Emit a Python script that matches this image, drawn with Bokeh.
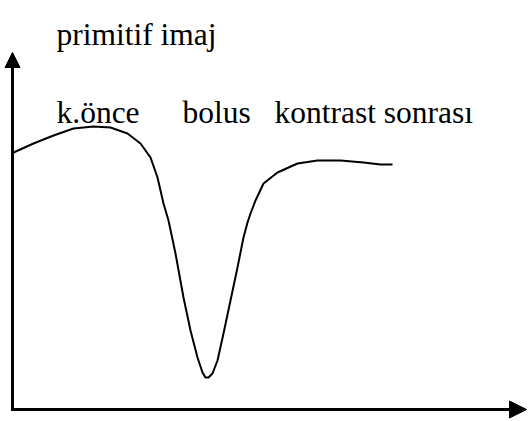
from bokeh.plotting import figure
from bokeh.models import Range1d, Arrow, NormalHead, Label
from bokeh.embed import file_html
from bokeh.resources import INLINE

# Curve (arbitrary time / signal units)
time = [1, 21, 41, 61, 81, 98, 115, 128, 138, 145, 151, 156, 163, 171, 178,
        185, 190, 193, 196, 200, 205, 211, 218, 225, 231, 235, 238, 243, 251,
        265, 285, 305, 328, 351, 368, 380]
signal = [257, 266, 274, 281, 283, 282, 276, 266, 252, 232, 206, 189, 156, 112,
          79, 52, 37, 32, 32, 36, 49, 76, 109, 142, 172, 187, 196, 209, 226,
          237, 246, 249, 249, 247, 245, 245]

title_text = ["primitif imaj"]
phase_labels = ["k.önce", "bolus", "kontrast sonrası"]
phase_x = [44, 170, 262]
phase_y = [297, 297, 297]
title_x = [44]
title_y = [375]

x_max = 514
y_max = 357

p = figure(width=528, height=421, output_backend="svg", toolbar_location=None,
           x_range=Range1d(-12, 516), y_range=Range1d(-12, 409),
           min_border=0, min_border_left=0, min_border_right=0,
           min_border_top=0, min_border_bottom=0)
p.xaxis.visible = False
p.yaxis.visible = False
p.grid.visible = False
p.outline_line_color = None
p.background_fill_color = "white"
p.border_fill_color = "white"

for tx, lx, ly in zip(title_text + phase_labels, title_x + phase_x, title_y + phase_y):
    p.add_layout(Label(x=lx, y=ly, text=tx, text_font="Liberation Serif",
                       text_font_size="31.5px", text_color="black",
                       text_baseline="alphabetic", text_align="left"))

p.line(time, signal, line_width=2, line_color="black", line_join="round")

# axes with arrows
p.add_layout(Arrow(end=NormalHead(size=17, fill_color="black", line_color="black", line_width=1),
                   x_start=-1.5, y_start=0, x_end=x_max, y_end=0,
                   line_width=3, line_color="black"))
p.add_layout(Arrow(end=NormalHead(size=15, fill_color="black", line_color="black", line_width=1),
                   x_start=0, y_start=-1.5, x_end=0, y_end=y_max,
                   line_width=3, line_color="black"))

open("out.html", "w").write(file_html(p, INLINE))
